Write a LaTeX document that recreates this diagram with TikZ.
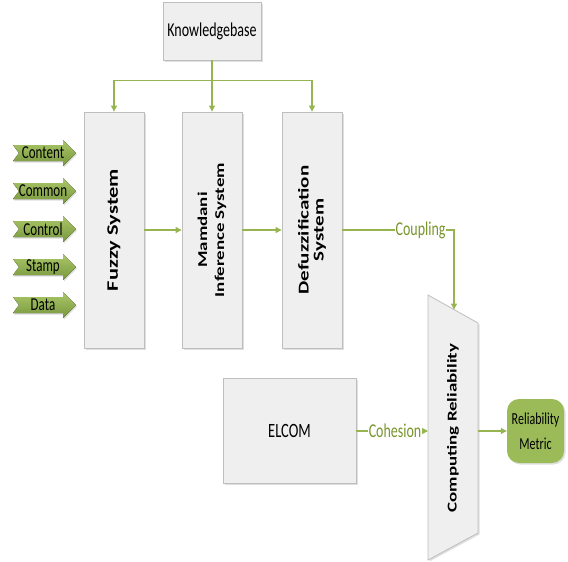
\documentclass[tikz,border=0pt]{standalone}
\usepackage{fontspec}
\setmainfont{Carlito}
\usetikzlibrary{arrows.meta,shadows,calc}
\definecolor{boxfill}{RGB}{239,239,239}
\definecolor{boxline}{RGB}{190,190,190}
\definecolor{olive}{RGB}{155,187,89}
\definecolor{olivelight}{RGB}{170,200,105}
\definecolor{olivedark}{RGB}{120,150,60}
\definecolor{lineg}{RGB}{150,180,80}
\definecolor{labelg}{RGB}{120,150,45}
\newcommand{\vst}[1]{\scalebox{1}[1.4]{#1}}
\newcommand{\vrot}[1]{\scalebox{1}[1.4]{\rotatebox{90}{#1}}}
\newcommand{\twol}[3]{\vbox{\baselineskip=#3\relax\lineskiplimit=-20pt\halign{\hfil##\hfil\cr #1\cr #2\cr}}}
\begin{document}
\begin{tikzpicture}[x=1pt,y=-1pt,
  gbox/.style={draw=boxline, fill=boxfill, line width=0.8pt,
    drop shadow={opacity=0.25,shadow xshift=1.5pt,shadow yshift=-1.5pt}, inner sep=0pt},
  conn/.style={draw=lineg, line width=1.1pt, -{Triangle[length=6pt,width=6pt]}},
  lbl/.style={fill=white, text=labelg, inner sep=1pt},
  inarrow/.style={top color=olivelight, bottom color=olivedark,
    drop shadow={opacity=0.25,shadow xshift=1pt,shadow yshift=-1.5pt}},
]
\useasboundingbox (0,0) rectangle (568,562);

% knowledge base
\node[gbox, minimum width=98pt, minimum height=58pt] (kb) at (212,31)
  {\vst{\fontsize{14}{16}\selectfont Knowledgebase}};

% three vertical boxes
\node[gbox, minimum width=60pt, minimum height=236pt] (fz) at (114,230)
  {\vrot{\fontsize{16}{18}\selectfont\bfseries Fuzzy System}};
\node[gbox, minimum width=60pt, minimum height=236pt] (mi) at (212,230)
  {\vrot{\fontsize{13.5}{17}\selectfont\bfseries\twol{Mamdani}{Inference System}{17pt}}};
\node[gbox, minimum width=60pt, minimum height=236pt] (df) at (312,230)
  {\vrot{\fontsize{15}{15}\selectfont\bfseries\twol{Defuzzification}{System}{15pt}}};

% ELCOM
\node[gbox, minimum width=133pt, minimum height=105pt] (el) at (289.5,431)
  {\vst{\fontsize{14.5}{16}\selectfont ELCOM}};

% trapezoid
\coordinate (tTL) at (428,295);
\coordinate (tTR) at (478,323);
\coordinate (tBR) at (478,533);
\coordinate (tBL) at (428,560);
\coordinate (tTop) at ($(tTL)!0.52!(tTR)$);
\draw[draw=boxline, fill=boxfill, line width=0.8pt,
  drop shadow={opacity=0.25,shadow xshift=1.5pt,shadow yshift=-1.5pt}]
  (tTL) -- (tTR) -- (tBR) -- (tBL) -- cycle;
\node (cr) at (453,428)
  {\vrot{\fontsize{13.5}{16}\selectfont\bfseries Computing Reliability}};

% reliability metric
\node[fill=olive, rounded corners=12pt, minimum width=57pt, minimum height=64pt, inner sep=0pt,
  drop shadow={opacity=0.25,shadow xshift=1.5pt,shadow yshift=-1.5pt}] (rm) at (535.5,431)
  {\vst{\fontsize{12}{18}\selectfont\twol{Reliability}{Metric}{18pt}}};

% input arrows
\foreach \yy/\tt [count=\i] in {153/Content,191/Common,229/Control,267/Stamp,305/Data}{
  \fill[inarrow] (13,\yy-8) -- (63,\yy-8) -- (63,\yy-13) -- (76,\yy) -- (63,\yy+13)
    -- (63,\yy+8) -- (13,\yy+8) -- (19,\yy) -- cycle;
  \node[inner sep=0pt] (in\i) at (43,\yy) {\vst{\fontsize{13}{14}\selectfont \tt}};
}

% connectors
\draw[conn] (kb.south) -- ++(0,20) -| (fz.north);
\draw[conn] (kb.south) -- (mi.north);
\draw[conn] (kb.south) -- ++(0,20) -| (df.north);
\draw[conn] (fz.east) -- (mi.west);
\draw[conn] (mi.east) -- (df.west);
\draw[conn] (df.east) -| (tTop)
  node[lbl, pos=0.35] {\vst{\fontsize{14}{16}\selectfont Coupling}};
\draw[conn] (el.east) -- (el.east -| tTL)
  node[lbl, pos=0.54] {\vst{\fontsize{14}{16}\selectfont Cohesion}};
\draw[conn] (rm.west -| tTR) -- (rm.west);
\end{tikzpicture}
\end{document}
